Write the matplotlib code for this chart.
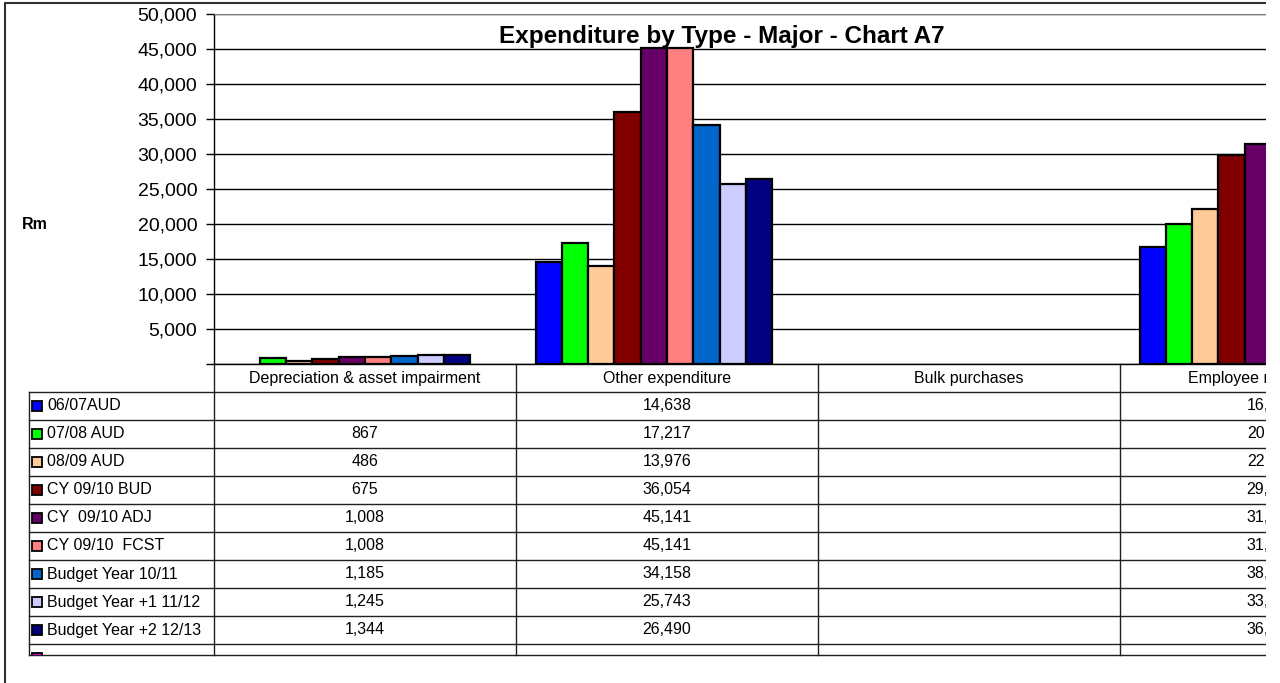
import numpy as np
import matplotlib
matplotlib.use('Agg')
import matplotlib.pyplot as plt
from matplotlib.transforms import blended_transform_factory
from matplotlib.lines import Line2D
from matplotlib.patches import Rectangle
from matplotlib.ticker import FuncFormatter

plt.rcParams['font.family'] = ['Liberation Sans', 'DejaVu Sans']

nan = np.nan
categories = ['Depreciation & asset impairment', 'Other expenditure',
              'Bulk purchases', 'Employee related costs']
series_names = ['06/07AUD', '07/08 AUD', '08/09 AUD', 'CY 09/10 BUD',
                'CY  09/10 ADJ', 'CY 09/10  FCST', 'Budget Year 10/11',
                'Budget Year +1 11/12', 'Budget Year +2 12/13', '']
series_colors = ['#0000FF', '#00FF00', '#FFCC99', '#800000', '#660066',
                 '#FF8080', '#0066CC', '#CCCCFF', '#000080', '#FF00FF']

# one list per category, in series order
depreciation = [nan, 867, 486, 675, 1008, 1008, 1185, 1245, 1344, nan]
other_exp = [14638, 17217, 13976, 36054, 45141, 45141, 34158, 25743, 26490, nan]
bulk = [nan] * 10
employee = [16757, 20020, 22120, 29786, 31430, 31430, 38300, 33500, 36400, nan]
values = np.array([depreciation, other_exp, bulk, employee]).T  # series x category

W, H = 1280, 683
fig = plt.figure(figsize=(W / 100, H / 100), dpi=100)


def fx(x):
    return x / W


def fy(y):
    return 1 - y / H


# plot area runs past the right edge (chart is cut off there)
ax = fig.add_axes([fx(214), fy(364), fx(302 * 4), 350 / H])
n_series = len(series_names)
bw = 1 / 11.5
x = np.arange(len(categories))
for s in range(n_series):
    v = values[s]
    ok = ~np.isnan(v)
    ax.bar(x[ok] + (s - (n_series - 1) / 2) * bw, v[ok], width=bw,
           color=series_colors[s], edgecolor='black', linewidth=1.6, zorder=3)

ax.set_xlim(-0.5, len(categories) - 0.5)
ax.set_ylim(0, 50000)
ax.set_yticks(np.arange(0, 50001, 5000))
ax.yaxis.set_major_formatter(FuncFormatter(lambda v, p: '' if v == 0 else f'{v:,.0f}'))
ax.tick_params(axis='y', direction='out', length=6, width=1, labelsize=14, pad=6)
ax.set_xticks([])
ax.yaxis.grid(True, color='black', linewidth=1, zorder=0)
ax.set_axisbelow(True)
ax.spines['top'].set_color('#808080')
ax.spines['right'].set_visible(False)
for sp in ('left', 'bottom'):
    ax.spines[sp].set_color('black')
    ax.spines[sp].set_linewidth(1)

fig.text(fx(722), fy(37), 'Expenditure by Type - Major - Chart A7',
         ha='center', va='center', fontsize=17.5, fontweight='bold')
fig.text(fx(35), fy(225), 'Rm', ha='center', va='center',
         fontsize=11.5, fontweight='bold')

# data table under the plot
tr = blended_transform_factory(ax.transData, fig.transFigure)
clip = Rectangle((0, fy(655)), 1, fy(364) - fy(655), transform=fig.transFigure)
row_h = 28
top_row = 392
table_bottom = 655
line_kw = dict(color='#202020', linewidth=1)

for i, cat in enumerate(categories):
    ax.text(i, fy(378), cat, transform=tr, ha='center', va='center',
            fontsize=11.5, clip_on=False)
for b in np.arange(0.5, len(categories), 1.0):
    ax.add_line(Line2D([b, b], [fy(364), fy(table_bottom)], transform=tr,
                       clip_on=False, **line_kw))
fig.add_artist(Line2D([fx(214), fx(214)], [fy(364), fy(table_bottom)], **line_kw))
fig.add_artist(Line2D([fx(29), fx(29)], [fy(top_row), fy(table_bottom)], **line_kw))
for r in range(n_series + 1):
    yy = min(top_row + r * row_h, table_bottom)
    fig.add_artist(Line2D([fx(29), 1], [fy(yy), fy(yy)], **line_kw))

for s, name in enumerate(series_names):
    yc = top_row + s * row_h + row_h / 2
    key = Rectangle((fx(32), fy(yc + 5)), fx(10), 10 / H, transform=fig.transFigure,
                    facecolor=series_colors[s], edgecolor='black', linewidth=1.3)
    key.set_clip_path(clip)
    fig.add_artist(key)
    t = fig.text(fx(47), fy(yc), name, ha='left', va='center', fontsize=11.5)
    t.set_clip_path(clip)
    for i in range(len(categories)):
        v = values[s, i]
        if np.isnan(v):
            continue
        t = ax.text(i, fy(yc), f'{v:,.0f}', transform=tr, ha='center',
                    va='center', fontsize=11.5, clip_on=True)
        t.set_clip_path(clip)

# outer chart frame
fig.add_artist(Line2D([fx(5), fx(5), fx(1265)], [0, fy(3), fy(3)],
                      color='#303030', linewidth=1.5))
# the chart is cut off on the right
fig.add_artist(Rectangle((fx(1266), 0), 1, 1, transform=fig.transFigure,
                         facecolor='white', edgecolor='none', zorder=20))

fig.savefig('out.png', dpi=100)
